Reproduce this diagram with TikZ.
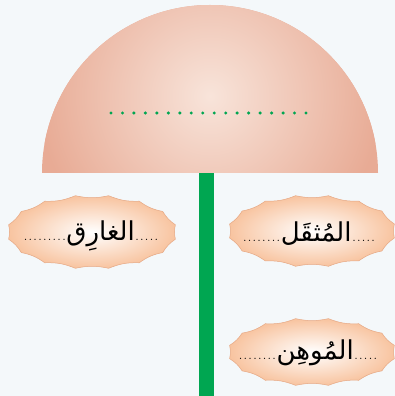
\documentclass[tikz,border=0pt]{standalone}
\usepackage{fontspec}
\usetikzlibrary{calc}
\newfontfamily\arabicfont[Script=Arabic]{DejaVu Sans}
\TeXXeTstate=1
\definecolor{bg}{HTML}{F4F8FA}
\definecolor{domein}{HTML}{F8E4DA}
\definecolor{domeout}{HTML}{E8AB95}
\definecolor{stem}{HTML}{00A651}
\definecolor{blobin}{HTML}{FFFFFF}
\definecolor{blobout}{HTML}{F8C4A0}
\definecolor{blobline}{HTML}{E6A884}
\newcount\dotcnt
\newcommand\dotsn[1]{{\fontsize{13}{13}\selectfont\dotcnt=0 \loop\hbox to 4.8pt{\hss.\hss}\advance\dotcnt by 1 \ifnum\dotcnt<#1\repeat}}
\newcommand\blob[4]{%
  \shade[blobshape] ({#1+#3*cos(11.25)},{#2+#4*sin(11.25)})
    \foreach \k in {1,...,15}{ to[bend left=12] ({#1+#3*cos(11.25+22.5*\k)},{#2+#4*sin(11.25+22.5*\k)}) }
    to[bend left=12] ({#1+#3*cos(11.25)},{#2+#4*sin(11.25)}) -- cycle;}
\tikzset{
  blobshape/.style={draw=blobline, line width=0.5pt, inner color=blobin, outer color=blobout},
  word/.style={inner sep=0pt, anchor=base, font=\fontsize{26}{30}\selectfont}
}
\begin{document}
\begin{tikzpicture}[x=1pt,y=1pt]
\fill[bg] (0,0) rectangle (395,396);
\useasboundingbox (0,0) rectangle (395,396);
% dome
\fill[domeout] (42,223) arc[start angle=180,end angle=0,radius=168] -- cycle;
\begin{scope}
  \clip (42,223) arc[start angle=180,end angle=0,radius=168] -- cycle;
  \shade[inner color=domein, outer color=domeout] (210,300) circle (172);
\end{scope}
\coordinate (d1) at (111,283);
\coordinate (d2) at (306,283);
\foreach \i in {0,...,17} \fill[stem] ($(d1)!\i/17!(d2)$) circle (1.7);
% stem
\fill[stem] (199,0) rectangle (214,222.5);
% labels
\blob{92}{164}{85}{37}
\blob{312}{165}{84}{36}
\blob{312}{44}{84}{34}
\node[word] (w1) at (91,155) {\dotsn{9}{\arabicfont\beginR الغارِق\endR}\dotsn{5}};
\node[word] (w2) at (309,154) {\dotsn{8}{\arabicfont\beginR المُثقَل\endR}\dotsn{5}};
\node[word] (w3) at (308,36) {\dotsn{8}{\arabicfont\beginR المُوهِن\endR}\dotsn{5}};
\end{tikzpicture}
\end{document}
